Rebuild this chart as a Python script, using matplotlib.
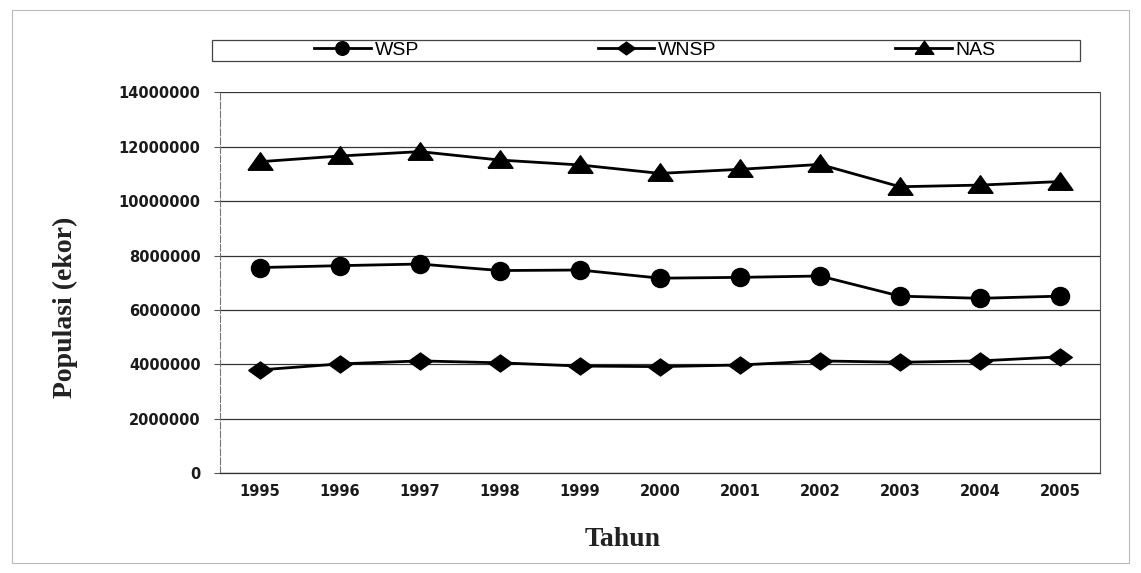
import matplotlib
matplotlib.use("Agg")
import matplotlib.pyplot as plt
from matplotlib.patches import Rectangle

years = ["1995", "1996", "1997", "1998", "1999", "2000", "2001", "2002", "2003", "2004", "2005"]
wsp = [7560000, 7630000, 7690000, 7450000, 7470000, 7170000, 7200000, 7250000, 6510000, 6430000, 6510000]
wnsp = [3800000, 4020000, 4130000, 4060000, 3940000, 3920000, 3980000, 4130000, 4080000, 4130000, 4280000]
nas = [11450000, 11660000, 11820000, 11510000, 11330000, 11020000, 11170000, 11350000, 10530000, 10590000, 10720000]
yticks = [0, 2000000, 4000000, 6000000, 8000000, 10000000, 12000000, 14000000]

W, H = 1141, 573
fig = plt.figure(figsize=(W / 100, H / 100), dpi=100)
ax = fig.add_axes([220 / W, 1 - 473.3 / H, 880 / W, 381 / H])

x = list(range(len(years)))
diamond = [(-1, 0), (0, 0.72), (1, 0), (0, -0.72), (-1, 0)]
triangle = [(-1, -0.62), (1, -0.62), (0, 0.78), (-1, -0.62)]
l1, = ax.plot(x, wsp, color="black", lw=2, marker="o", ms=13, label="WSP")
l2, = ax.plot(x, wnsp, color="black", lw=2, marker=diamond, ms=17, label="WNSP")
l3, = ax.plot(x, nas, color="black", lw=2, marker=triangle, ms=18, label="NAS")

ax.set_xlim(-0.5, len(years) - 0.5)
ax.set_ylim(0, 14000000)
ax.set_yticks(yticks)
ax.set_yticklabels([str(v) for v in yticks])
ax.set_xticks(x)
ax.set_xticklabels(years)
for lab in ax.get_xticklabels() + ax.get_yticklabels():
    lab.set_fontfamily("DejaVu Sans")
    lab.set_fontweight("bold")
    lab.set_fontsize(10.5)
    lab.set_color("#1a1a1a")
ax.tick_params(axis="x", length=0, pad=8)
ax.tick_params(axis="y", length=4, width=0.8, color="#555555", pad=10)
ax.yaxis.grid(True, color="#333333", lw=0.9)
ax.set_axisbelow(True)
ax.spines["top"].set_visible(False)
ax.spines["bottom"].set_color("#333333")
ax.spines["bottom"].set_linewidth(0.9)
ax.spines["left"].set_color("#777777")
ax.spines["left"].set_linestyle((0, (6, 2)))
ax.spines["left"].set_linewidth(0.8)
ax.spines["right"].set_color("#555555")
ax.spines["right"].set_linewidth(0.8)

fig.text(65 / W, 1 - 307 / H, "Populasi (ekor)", rotation=90, ha="center", va="center",
         fontfamily="Liberation Serif", fontweight="bold", fontsize=20, color="#222222")
fig.text(623 / W, 1 - 539 / H, "Tahun", ha="center", va="center",
         fontfamily="Liberation Serif", fontweight="bold", fontsize=20, color="#222222")

# legend frame
fig.patches.append(Rectangle((212 / W, 1 - 61 / H), (1080 - 212) / W, 21 / H,
                             transform=fig.transFigure, fill=False,
                             edgecolor="#444444", lw=0.9))
leg = fig.legend(handles=[l1, l2, l3], loc="center",
                 bbox_to_anchor=(655 / W, 1 - 50.5 / H),
                 ncol=3, frameon=False,
                 prop={"family": "Liberation Sans", "size": 14},
                 handlelength=2.9, handletextpad=0.2, columnspacing=9.2,
                 borderpad=0, markerscale=0.75)

fig.patches.append(Rectangle((12 / W, 10 / H), (W - 24) / W, (H - 20) / H,
                             transform=fig.transFigure, fill=False,
                             edgecolor="#bbbbbb", lw=0.8))

fig.savefig("out.png", dpi=100)
